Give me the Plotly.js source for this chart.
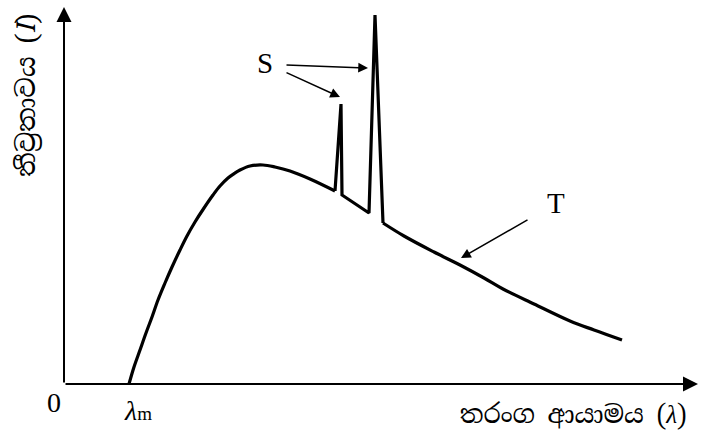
<!DOCTYPE html>
<html>
<head>
<meta charset="utf-8">
<script src="https://cdn.plot.ly/plotly-3.0.1.min.js"></script>
<style>
  html, body { margin: 0; padding: 0; background: #fff; }
  #chart { width: 703px; height: 432px; }
</style>
</head>
<body>
<div id="chart"></div>
<script>
// X-ray spectrum sketch: continuous spectrum (T) with two characteristic lines (S).
// Wavelength and intensity are in arbitrary units.
const wavelength = [65, 70, 76, 82, 88, 94, 101, 108, 116, 123, 131, 140, 149, 156, 164, 171, 176, 186, 199, 211, 226, 246, 271,
                    277, 278, 305, 311, 319,
                    340, 370, 396, 420, 439, 470, 506, 530, 558];
const intensity  = [0, 17, 34, 51, 67, 84, 101, 117, 134, 148, 162, 176, 189, 198, 206, 211, 214, 218, 219, 217, 213, 205, 193,
                    280, 189, 171, 369, 161,
                    148, 132, 119, 106, 95, 80, 63, 54, 44];

// index ranges: smooth rise, the two sharp lines, smooth tail
const riseEnd = 22;
const linesEnd = 27;

const axisMaxX = 634;
const axisMaxY = 377;

const serif = 'Liberation Serif, Times New Roman, serif';
const sinhala = 'Noto Serif Sinhala, Noto Sans Sinhala, Iskoola Pota, Liberation Serif, serif';

function segment(i0, i1, shape) {
  return {
    x: wavelength.slice(i0, i1 + 1),
    y: intensity.slice(i0, i1 + 1),
    mode: 'lines',
    line: { color: '#000', width: 3.2, shape: shape, smoothing: 1 },
    hoverinfo: 'skip'
  };
}

const traces = [
  segment(0, riseEnd, 'spline'),
  segment(riseEnd, linesEnd, 'linear'),
  segment(linesEnd, wavelength.length - 1, 'spline')
];

function arrow(x0, y0, x1, y1, w, size) {
  return {
    x: x1, y: y1, ax: x0, ay: y0,
    xref: 'x', yref: 'y', axref: 'x', ayref: 'y',
    text: '', showarrow: true,
    arrowhead: 2, arrowwidth: w, arrowsize: size,
    arrowcolor: '#000', standoff: 0, startstandoff: 0
  };
}

function label(text, x, y, size, family, ref, extra) {
  return Object.assign({
    x: x, y: y, xref: ref === 'paper' ? 'paper' : 'x', yref: ref === 'paper' ? 'paper' : 'y',
    text: text, showarrow: false,
    font: { family: family, size: size, color: '#000' },
    xanchor: 'center', yanchor: 'middle'
  }, extra || {});
}

const annotations = [
  // axes
  arrow(0, 0, 0, axisMaxY, 2, 1.5),
  arrow(0, 0, axisMaxX, 0, 2, 1.5),
  // S pointers to the characteristic lines
  arrow(221, 319, 304, 316, 1.5, 1.3),
  arrow(221, 312, 276, 287, 1.5, 1.3),
  // T pointer to the continuous spectrum
  arrow(465, 165, 397, 126, 1.5, 1.3),
  // text
  label('S', 201, 321, 29, serif),
  label('T', 492, 181, 29, serif),
  label('0', -0.016, -0.05, 28, serif, 'paper'),
  label('<i>λ</i><span style="font-size:19px">m</span>', 0.117, -0.069, 28, serif, 'paper'),
  label('තරංග ආයාමය (<i>λ</i>)', 0.804, -0.127, 25, sinhala, 'paper', { yanchor: 'bottom', borderpad: 0 }),
  label('තීව්‍රතාවය (<i>I</i>)', -0.06, 0.767, 26, sinhala, 'paper', { textangle: -90 })
];

const hiddenAxis = {
  showgrid: false, zeroline: false, showline: false,
  showticklabels: false, ticks: '', fixedrange: true
};

const layout = {
  width: 703, height: 432,
  margin: { l: 64, r: 5, t: 7, b: 48 },
  paper_bgcolor: '#fff', plot_bgcolor: '#fff',
  showlegend: false,
  xaxis: Object.assign({ range: [0, axisMaxX] }, hiddenAxis),
  yaxis: Object.assign({ range: [0, axisMaxY] }, hiddenAxis),
  annotations: annotations
};

Plotly.newPlot('chart', traces, layout, { displayModeBar: false, staticPlot: true });
</script>
</body>
</html>
